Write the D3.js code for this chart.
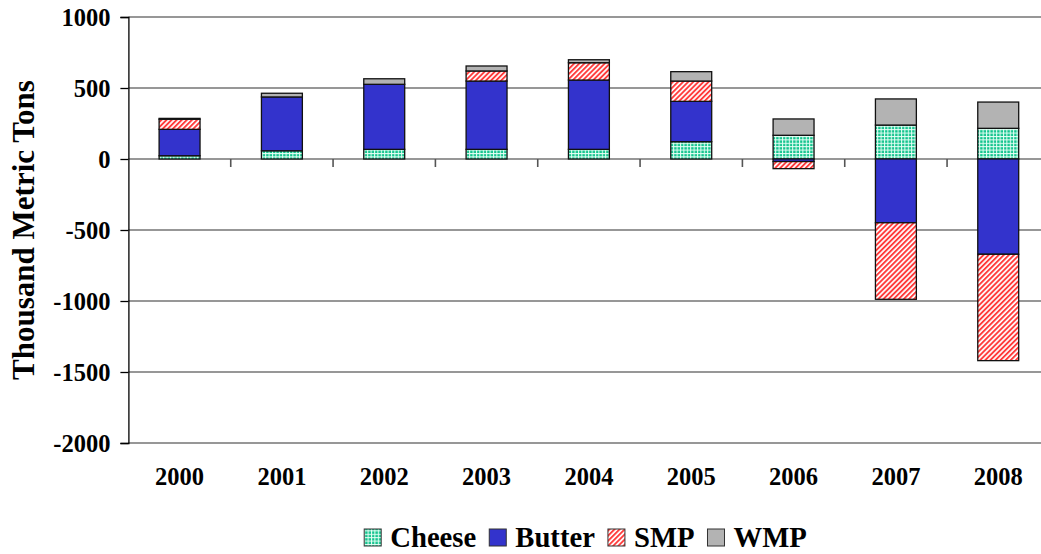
<!DOCTYPE html>
<html>
<head>
<meta charset="utf-8">
<script src="https://cdn.jsdelivr.net/npm/d3@7"></script>
<style>
  body { margin: 0; background: #fff; }
  text { font-family: "Liberation Serif", "Times New Roman", serif; font-weight: bold; fill: #000; }
</style>
</head>
<body>
<div id="chart"></div>
<script>
// values (thousand metric tons)
const years = ['2000', '2001', '2002', '2003', '2004', '2005', '2006', '2007', '2008'];
const cheese = [23, 58, 68, 68, 68, 122, 167, 239, 216];
const butter = [186, 379, 458, 481, 488, 284, -18, -449, -671];
const smp = [71, 0, 0, 71, 122, 143, -50, -539, -749];
const wmp = [6, 26, 39, 35, 21, 66, 115, 184, 185];
const seriesNames = ['Cheese', 'Butter', 'SMP', 'WMP'];
const yTicks = [1000, 500, 0, -500, -1000, -1500, -2000];

const width = 1041, height = 554;
const margin = { top: 17, left: 128.4, bottom: 111 };
const plotRight = 1049.4; // plot runs past the right edge of the picture

const svg = d3.select('#chart').append('svg')
    .attr('width', width)
    .attr('height', height);

// fills
const defs = svg.append('defs');
const pc = defs.append('pattern')
    .attr('id', 'p-cheese')
    .attr('patternUnits', 'userSpaceOnUse')
    .attr('width', 3.4).attr('height', 3.4);
pc.append('rect').attr('width', 3.4).attr('height', 3.4).attr('fill', '#14c48e');
pc.append('rect').attr('width', 3.4).attr('height', 1).attr('fill', '#e8fff6');
pc.append('rect').attr('width', 1).attr('height', 3.4).attr('fill', '#e8fff6');

const ps = defs.append('pattern')
    .attr('id', 'p-smp')
    .attr('patternUnits', 'userSpaceOnUse')
    .attr('width', 3.6).attr('height', 3.6)
    .attr('patternTransform', 'rotate(45)');
ps.append('rect').attr('width', 3.6).attr('height', 3.6).attr('fill', '#fff');
ps.append('rect').attr('width', 1.9).attr('height', 3.6).attr('fill', '#ff3b3b');

const fills = {
    Cheese: 'url(#p-cheese)',
    Butter: '#3333cc',
    SMP: 'url(#p-smp)',
    WMP: '#b3b3b3'
};

const rows = years.map((y, i) => ({
    year: y, Cheese: cheese[i], Butter: butter[i], SMP: smp[i], WMP: wmp[i]
}));

const stacked = d3.stack()
    .keys(seriesNames)
    .offset(d3.stackOffsetDiverging)(rows);

const x = d3.scaleBand()
    .domain(years)
    .range([margin.left, plotRight])
    .paddingInner(0.6)
    .paddingOuter(0.3);

const y = d3.scaleLinear()
    .domain([-2000, 1000])
    .range([height - margin.bottom, margin.top]);

// gridlines
svg.append('g')
    .selectAll('line')
    .data(yTicks)
    .join('line')
    .attr('x1', margin.left)
    .attr('x2', plotRight)
    .attr('y1', d => y(d))
    .attr('y2', d => y(d))
    .attr('stroke', '#747474')
    .attr('stroke-width', 1.6);

// category ticks under the zero line
svg.append('g')
    .selectAll('line')
    .data(years.slice(1))
    .join('line')
    .attr('x1', d => x(d) - x.step() * x.paddingInner() / 2)
    .attr('x2', d => x(d) - x.step() * x.paddingInner() / 2)
    .attr('y1', y(0))
    .attr('y2', y(0) + 8)
    .attr('stroke', '#555')
    .attr('stroke-width', 1.6);

// bars
svg.append('g')
    .selectAll('g')
    .data(stacked)
    .join('g')
    .attr('fill', d => fills[d.key])
    .selectAll('rect')
    .data(d => d.filter(s => s[1] !== s[0]))
    .join('rect')
    .attr('x', d => x(d.data.year))
    .attr('width', x.bandwidth())
    .attr('y', d => y(Math.max(d[0], d[1])))
    .attr('height', d => Math.abs(y(d[0]) - y(d[1])))
    .attr('stroke', '#111')
    .attr('stroke-width', 1.3);

// y axis
const yAxis = svg.append('g')
    .attr('transform', `translate(${margin.left},0)`)
    .call(d3.axisLeft(y).tickValues(yTicks).tickSize(8).tickPadding(10).tickFormat(d => String(d)));
yAxis.select('.domain').attr('stroke', '#000').attr('stroke-width', 1.3);
yAxis.selectAll('.tick line').attr('stroke', '#000').attr('stroke-width', 1.3);
yAxis.selectAll('.tick text')
    .attr('font-family', null)
    .attr('font-size', 24.5)
    .attr('dy', '0.35em');

// x labels
svg.append('g')
    .selectAll('text')
    .data(years)
    .join('text')
    .attr('x', d => x(d) + x.bandwidth() / 2)
    .attr('y', 485)
    .attr('text-anchor', 'middle')
    .attr('font-size', 24.5)
    .text(d => d);

// y title
svg.append('text')
    .attr('transform', `translate(34,${(y(1000) + y(-2000)) / 2}) rotate(-90)`)
    .attr('text-anchor', 'middle')
    .attr('font-size', 31)
    .text('Thousand Metric Tons');

// legend
const legend = svg.append('g');
let lx = 0;
seriesNames.forEach(name => {
    const item = legend.append('g').attr('transform', `translate(${lx},0)`);
    item.append('rect')
        .attr('x', 0).attr('y', 529)
        .attr('width', 17).attr('height', 17)
        .attr('fill', fills[name])
        .attr('stroke', '#333')
        .attr('stroke-width', 1);
    const t = item.append('text')
        .attr('x', 26).attr('y', 547)
        .attr('font-size', 28.7)
        .text(name);
    lx += 26 + t.node().getComputedTextLength() + 13;
});
const lw = lx - 13;
legend.attr('transform', `translate(${585.5 - lw / 2},0)`);
</script>
</body>
</html>
